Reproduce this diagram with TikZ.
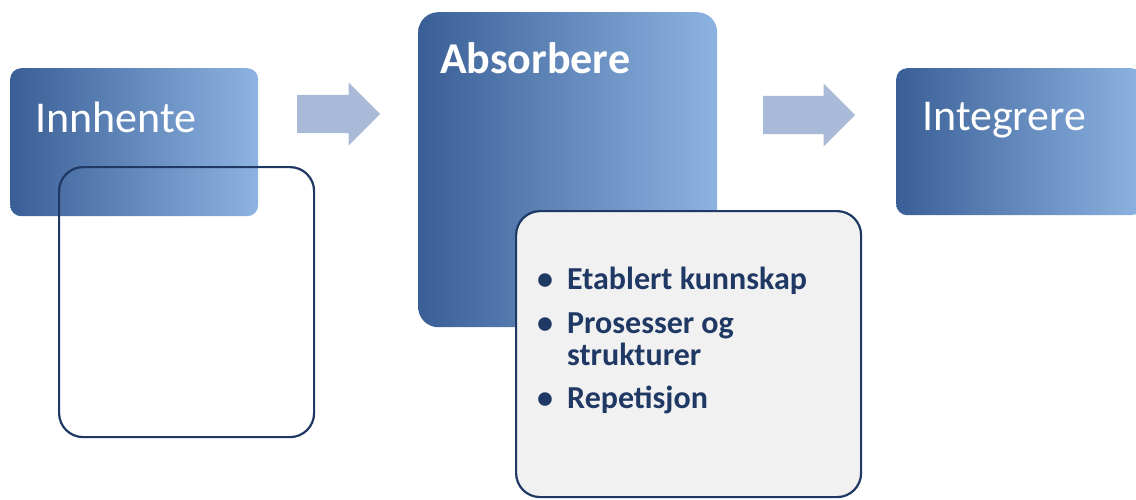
\documentclass[tikz,border=0pt]{standalone}
\usepackage{fontspec}
\setmainfont{Carlito}
\usetikzlibrary{shapes.arrows}

\definecolor{stageDark}{RGB}{58,95,150}
\definecolor{stageLight}{RGB}{141,179,226}
\definecolor{flowBlue}{RGB}{168,186,216}
\definecolor{detailFill}{RGB}{241,241,242}
\definecolor{detailLine}{RGB}{32,56,100}
\definecolor{detailText}{RGB}{31,56,100}

\tikzset{
  stage/.style={rectangle, rounded corners=11pt, left color=stageDark,
    right color=stageLight, draw=none, inner sep=0pt, anchor=north west},
  stagetext/.style={text=white, font=\fontsize{44}{53}\selectfont,
    anchor=base west, inner sep=0pt},
  flow/.style={single arrow, fill=flowBlue, draw=none, inner xsep=0pt,
    inner ysep=19pt, single arrow head extend=12.5pt, anchor=tail},
  detail/.style={rectangle, rounded corners=24pt, draw=detailLine,
    line width=2.2pt, inner sep=0pt, anchor=north west},
  items/.style={text=detailText, font=\bfseries\fontsize{32}{32}\selectfont,
    align=left, anchor=base west, inner sep=0pt},
}

\begin{document}
\begin{tikzpicture}[x=1pt,y=-1pt]
  \useasboundingbox (0,0) rectangle (1136,499);% page as the reference
  % first stage with its empty detail box
  \node[stage, minimum width=248pt, minimum height=148pt] (innhente) at (10,68) {};
  \node[stagetext] (innhenteTxt) at (35,132) {Innhente};
  \node[detail, minimum width=255pt, minimum height=270pt] (innhenteDet) at (58,166) {};
  % arrows between the stages
  \node[flow, minimum height=83pt] (flowA) at (297,114) {};
  \node[flow, minimum height=92pt] (flowB) at (763,115) {};
  % second stage with its detail box
  \node[stage, rounded corners=20pt, minimum width=299pt, minimum height=315pt] (absorbere) at (418,12) {};
  \node[stagetext, font=\bfseries\fontsize{44}{53}\selectfont] (absorbereTxt) at (440,73) {Absorbere};
  \node[detail, fill=detailFill, minimum width=345pt, minimum height=286pt] (absorbereDet) at (515,210) {};
  \node[items] (absorbereList) at (537,408) {% base is the last line
    \makebox[30pt][l]{\textbullet}Etablert kunnskap\\[12pt]
    \makebox[30pt][l]{\textbullet}Prosesser og\\
    \hspace*{30pt}strukturer\\[11pt]
    \makebox[30pt][l]{\textbullet}Repetisjon};
  % third stage
  \node[stage, minimum width=246pt, minimum height=147pt] (integrere) at (896,68) {};
  \node[stagetext] (integrereTxt) at (922,130) {Integrere};
\end{tikzpicture}
\end{document}
